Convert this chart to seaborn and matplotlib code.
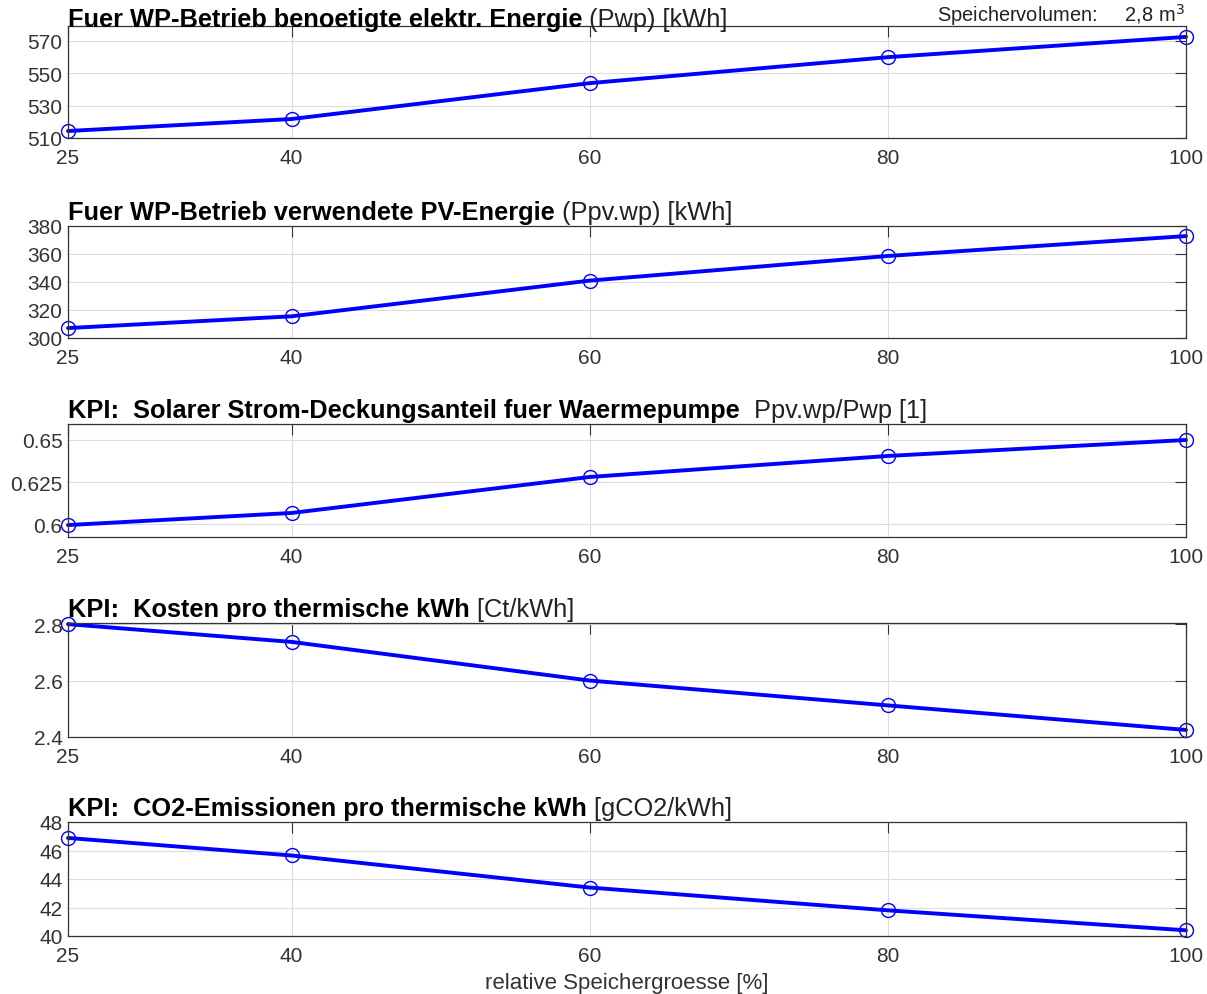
import matplotlib
matplotlib.use("Agg")
import matplotlib.pyplot as plt
import seaborn as sns
import pandas as pd

# data
groesse = [25, 40, 60, 80, 100]
pwp = [514.3, 521.7, 543.8, 559.8, 572.3]
ppv_wp = [307.1, 315.5, 341.0, 358.6, 372.8]
deckung = [0.5994, 0.6066, 0.628, 0.6405, 0.650]
kosten = [2.80, 2.737, 2.60, 2.512, 2.425]
co2 = [46.88, 45.65, 43.4, 41.8, 40.4]

titles_bold = [
    "Fuer WP-Betrieb benoetigte elektr. Energie",
    "Fuer WP-Betrieb verwendete PV-Energie",
    "KPI:  Solarer Strom-Deckungsanteil fuer Waermepumpe",
    "KPI:  Kosten pro thermische kWh",
    "KPI:  CO2-Emissionen pro thermische kWh",
]
titles_normal = [
    " (Pwp) [kWh]",
    " (Ppv.wp) [kWh]",
    "  Ppv.wp/Pwp [1]",
    " [Ct/kWh]",
    " [gCO2/kWh]",
]
yticks = [
    [510, 530, 550, 570],
    [300, 320, 340, 360, 380],
    [0.6, 0.625, 0.65],
    [2.4, 2.6, 2.8],
    [40, 42, 44, 46, 48],
]
yticklabels = [
    ["510", "530", "550", "570"],
    ["300", "320", "340", "360", "380"],
    ["0.6", "0.625", "0.65"],
    ["2.4", "2.6", "2.8"],
    ["40", "42", "44", "46", "48"],
]
ylims = [(510, 579), (300, 380), (0.5923, 0.6595), (2.4, 2.804), (40, 48)]
series = [pwp, ppv_wp, deckung, kosten, co2]

sns.set_theme(style="white")
plt.rcParams["font.family"] = ["Liberation Sans", "DejaVu Sans"]

fig = plt.figure(figsize=(12.07, 9.95), dpi=100)
W, H = 1207, 995
left, right = 68, 1186
panel_px = [(27, 139), (227, 339), (425, 538), (624, 738), (823, 937)]

grey = "#333333"
for i, (top, bot) in enumerate(panel_px):
    ax = fig.add_axes([left / W, 1 - bot / H, (right - left) / W, (bot - top) / H])
    df = pd.DataFrame({"x": groesse, "y": series[i]})
    sns.lineplot(data=df, x="x", y="y", ax=ax, color=(0, 0, 1), linewidth=2.8,
                 marker="o", markersize=10, markerfacecolor="none",
                 markeredgecolor=(0, 0, 1), markeredgewidth=1.0, clip_on=False)
    ax.set_xlim(25, 100)
    ax.set_ylim(*ylims[i])
    ax.set_xticks(groesse)
    ax.set_yticks(yticks[i])
    ax.set_yticklabels(yticklabels[i])
    ax.set_xlabel("")
    ax.set_ylabel("")
    ax.grid(True, color="#dcdcdc", linewidth=0.8)
    ax.tick_params(direction="in", length=8, width=0.8, color=grey,
                   labelcolor=grey, labelsize=15, top=True, right=True,
                   pad=4)
    ax.tick_params(axis="x", pad=7)
    for s in ax.spines.values():
        s.set_color(grey)
        s.set_linewidth(0.9)
    lift = 0 if i == 0 else 5
    t = ax.annotate(titles_bold[i], xy=(0, 1.0), xycoords="axes fraction",
                    xytext=(0, lift), textcoords="offset points",
                    ha="left", va="baseline", fontsize=18.3,
                    fontweight="bold", color="black")
    ax.annotate(titles_normal[i], xy=(1, 0), xycoords=t, ha="left",
                va="bottom", fontsize=18.3, color="#222222")
    if i == 0:
        ax.annotate("Speichervolumen:     2,8 m$^3$", xy=(0.9985, 1.0),
                    xycoords="axes fraction", xytext=(0, 3.5),
                    textcoords="offset points", ha="right", va="baseline",
                    fontsize=14.4, color="#222222")
    if i == 4:
        ax.set_xlabel("relative Speichergroesse [%]", fontsize=16, color=grey,
                      labelpad=5)

fig.savefig("out.png", dpi=100)
